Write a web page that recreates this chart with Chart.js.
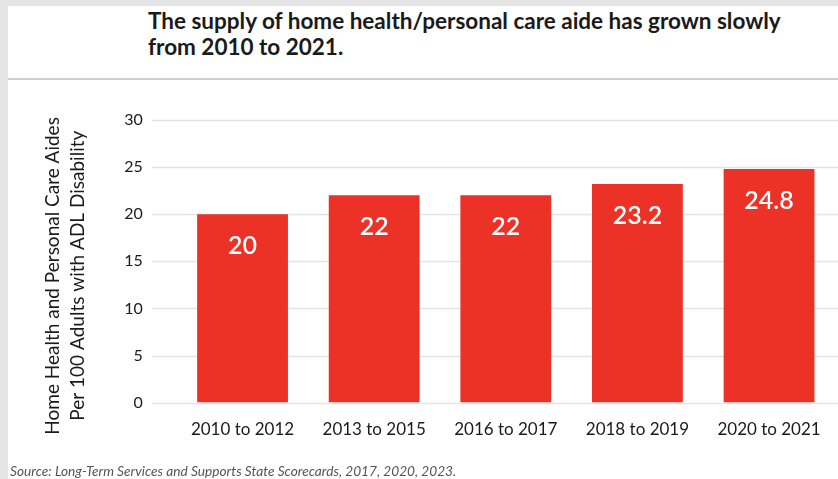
<!DOCTYPE html>
<html>
<head>
<meta charset="utf-8">
<script src="https://cdn.jsdelivr.net/npm/chart.js@4.4.0/dist/chart.umd.min.js"></script>
<style>
  html, body { margin: 0; padding: 0; }
  body { width: 838px; height: 479px; background: #e4e4e4; position: relative; overflow: hidden; font-family: Lato, sans-serif; }
  #panel { position: absolute; left: 8px; top: 6px; right: 0; bottom: 0; background: #fff; }
  #title { position: absolute; left: 148px; top: 8px; font-weight: bold; font-size: 22.5px; line-height: 26px; color: #1a1a1a; }
  #rule { position: absolute; left: 8px; right: 0; top: 78px; height: 2px; background: #cfcfcf; }
  #source { position: absolute; left: 10px; top: 462px; font-style: italic; font-size: 13.7px; color: #555; }
  canvas { position: absolute; left: 0; top: 0; }
</style>
</head>
<body>
<div id="panel"></div>
<div id="title">The supply of home health/personal care aide has grown slowly<br>from 2010 to 2021.</div>
<div id="rule"></div>
<canvas id="myChart" width="838" height="479"></canvas>
<div id="source">Source: Long-Term Services and Supports State Scorecards, 2017, 2020, 2023.</div>
<script>
const periods = ['2010 to 2012', '2013 to 2015', '2016 to 2017', '2018 to 2019', '2020 to 2021'];
const aides = [20, 22, 22, 23.2, 24.8];
const yTitle = ['Home Health and Personal Care Aides', 'Per 100 Adults with ADL Disability'];

// 격자선: 차트 영역보다 왼쪽에서 시작
const gridPlugin = {
  id: 'gridLines',
  beforeDatasetsDraw(chart) {
    const ctx = chart.ctx;
    const y = chart.scales.y;
    ctx.save();
    ctx.strokeStyle = '#e4e4e4';
    ctx.lineWidth = 1.5;
    y.ticks.forEach(t => {
      const py = Math.round(y.getPixelForValue(t.value)) + 0.5;
      ctx.beginPath();
      ctx.moveTo(152, py);
      ctx.lineTo(chart.width, py);
      ctx.stroke();
    });
    ctx.restore();
  }
};

// 막대 안쪽 값 라벨
const valuePlugin = {
  id: 'barValues',
  afterDatasetsDraw(chart) {
    const ctx = chart.ctx;
    const meta = chart.getDatasetMeta(0);
    ctx.save();
    ctx.fillStyle = '#fff';
    ctx.font = '600 25px Lato';
    ctx.textAlign = 'center';
    ctx.textBaseline = 'middle';
    meta.data.forEach((bar, i) => {
      ctx.fillText(String(aides[i]), bar.x, bar.y + 32);
    });
    ctx.restore();
  }
};

// 축 제목을 아래로 조금 내리기 위한 여백 (공백 문자)
const pad = '\u00a0'.repeat(6);

new Chart(document.getElementById('myChart'), {
  type: 'bar',
  data: {
    labels: periods,
    datasets: [{
      data: aides,
      backgroundColor: '#ec3127',
      borderWidth: 0,
      categoryPercentage: 1,
      barPercentage: 0.69
    }]
  },
  options: {
    responsive: false,
    animation: false,
    layout: { padding: { top: 120, left: 29, right: 3, bottom: 22 } },
    plugins: { legend: { display: false }, tooltip: { enabled: false } },
    scales: {
      x: {
        grid: { display: false, drawTicks: false },
        border: { display: false },
        ticks: { color: '#1a1a1a', font: { family: 'Lato', size: 17 }, padding: 17, maxRotation: 0 }
      },
      y: {
        min: 0,
        max: 30,
        grid: { display: false, drawTicks: false },
        border: { display: false },
        ticks: { stepSize: 5, color: '#1a1a1a', font: { family: 'Lato', size: 16 }, padding: 34 },
        title: {
          display: true,
          text: yTitle.map(s => s + pad),
          color: '#1a1a1a',
          font: { family: 'Lato', size: 19, lineHeight: 1.32 },
          padding: { top: 11, bottom: 0 }
        }
      }
    }
  },
  plugins: [gridPlugin, valuePlugin]
});
</script>
</body>
</html>
